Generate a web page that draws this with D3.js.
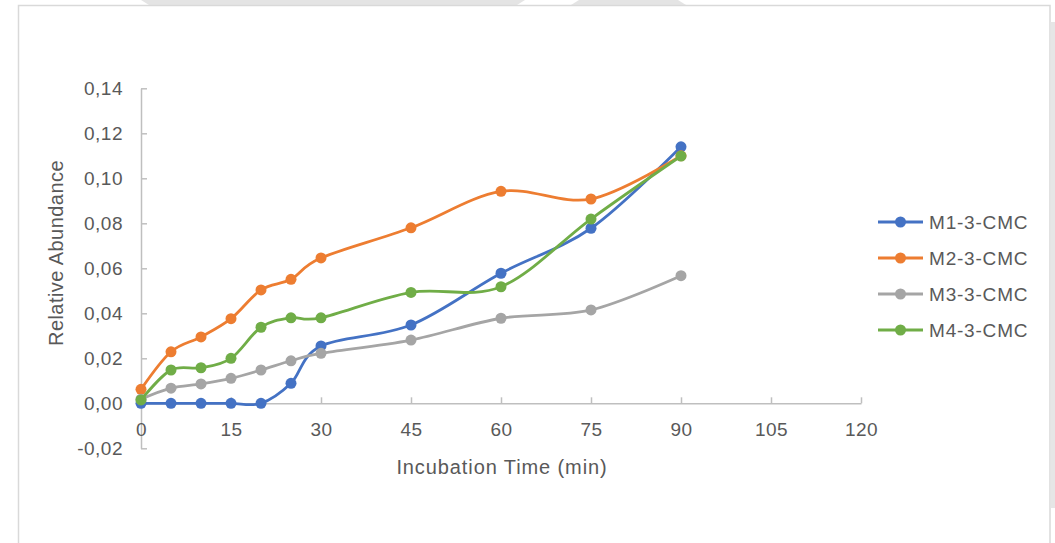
<!DOCTYPE html>
<html><head><meta charset="utf-8">
<script src="https://cdn.jsdelivr.net/npm/d3@7"></script>
<style>
html,body{margin:0;padding:0;background:#fff;}
svg{display:block;font-family:"Liberation Sans",Arial,sans-serif;}
</style></head>
<body>
<svg id="chart" width="1055" height="543"></svg>
<script>
const times = [0, 5, 10, 15, 20, 25, 30, 45, 60, 75, 90];
const seriesNames = ["M1-3-CMC", "M2-3-CMC", "M3-3-CMC", "M4-3-CMC"];
const m1 = [0, 0, 0, 0, 0, 0.0089, 0.0255, 0.0348, 0.0578, 0.0778, 0.1140];
const m2 = [0.0062, 0.0229, 0.0295, 0.0376, 0.0504, 0.0551, 0.0646, 0.0780, 0.0942, 0.0908, 0.1100];
const m3 = [0.0018, 0.0067, 0.0086, 0.0111, 0.0148, 0.0189, 0.0222, 0.0281, 0.0378, 0.0415, 0.0567];
const m4 = [0.0015, 0.0148, 0.0158, 0.0200, 0.0338, 0.0380, 0.0380, 0.0493, 0.0518, 0.0819, 0.1099];
const colors = ["#4472C4", "#ED7D31", "#A5A5A5", "#70AD47"];
const xTicks = [0, 15, 30, 45, 60, 75, 90, 105, 120];
const yTicks = [-0.02, 0, 0.02, 0.04, 0.06, 0.08, 0.10, 0.12, 0.14];
const xTitle = "Incubation Time (min)";
const yTitle = "Relative Abundance";

const svg = d3.select("#chart");
const locale = d3.formatLocale({decimal: ",", thousands: ".", grouping: [3], currency: ["", ""], minus: "-"});
const fmt = locale.format(".2f");

// background decorations
svg.append("polygon").attr("points", "141,0 525,0 517,5 149,5").attr("fill", "#e4e4e4");
svg.append("polygon").attr("points", "579,0 678,0 686,5 571,5").attr("fill", "#e4e4e4");
svg.append("rect").attr("x", 18.5).attr("y", 5.5).attr("width", 1031.5).attr("height", 560)
  .attr("fill", "#fff").attr("stroke", "#d9d9d9").attr("stroke-width", 1.5);
svg.append("rect").attr("x", 1050.5).attr("y", 22).attr("width", 5).attr("height", 486).attr("fill", "#e6e6e6");

const x = d3.scaleLinear().domain([0, 120]).range([141, 861]);
const y = d3.scaleLinear().domain([-0.02, 0.14]).range([448.3, 88.3]);

const axisColor = "#bfbfbf";
const textColor = "#595959";

// y axis
const yAxis = svg.append("g").attr("transform", `translate(${x(0)},0)`)
  .call(d3.axisLeft(y).tickValues(yTicks).tickSizeInner(-6).tickSizeOuter(0).tickPadding(18).tickFormat(fmt));
yAxis.select(".domain").attr("stroke", axisColor).attr("stroke-width", 1.5);
yAxis.selectAll(".tick line").attr("stroke", axisColor).attr("stroke-width", 1.5);
yAxis.selectAll(".tick text").attr("fill", textColor).attr("font-size", 19).attr("font-family", "Liberation Sans, Arial, sans-serif").attr("letter-spacing", 0.5);

// x axis at y=0
const xAxis = svg.append("g").attr("transform", `translate(0,${y(0)})`)
  .call(d3.axisBottom(x).tickValues(xTicks).tickSizeInner(-6).tickSizeOuter(0).tickPadding(19).tickFormat(d3.format("d")));
xAxis.select(".domain").attr("stroke", axisColor).attr("stroke-width", 1.5);
xAxis.selectAll(".tick line").attr("stroke", axisColor).attr("stroke-width", 1.5);
xAxis.selectAll(".tick text").attr("fill", textColor).attr("font-size", 19).attr("font-family", "Liberation Sans, Arial, sans-serif").attr("letter-spacing", 0.5);

// titles
svg.append("text").attr("x", (x(0) + x(120)) / 2 + 1).attr("y", 474).attr("text-anchor", "middle")
  .attr("fill", textColor).attr("font-size", 20).attr("letter-spacing", 0.9).text(xTitle);
svg.append("text").attr("transform", "translate(63,253) rotate(-90)").attr("text-anchor", "middle")
  .attr("fill", textColor).attr("font-size", 20).attr("letter-spacing", 0.45).text(yTitle);

// series
const allSeries = [m1, m2, m3, m4];
const line = d3.line().x((d, i) => x(times[i])).y(d => y(d)).curve(d3.curveCardinal.tension(0));
allSeries.forEach((vals, k) => {
  const g = svg.append("g");
  g.append("path").datum(vals).attr("d", line).attr("fill", "none")
    .attr("stroke", colors[k]).attr("stroke-width", 2.8).attr("stroke-linejoin", "round").attr("stroke-linecap", "round");
  g.selectAll("circle").data(vals).join("circle")
    .attr("cx", (d, i) => x(times[i])).attr("cy", d => y(d)).attr("r", 5.5).attr("fill", colors[k]);
});

// legend
const leg = svg.append("g");
seriesNames.forEach((name, k) => {
  const yy = 222 + k * 36;
  leg.append("line").attr("x1", 878).attr("x2", 923).attr("y1", yy).attr("y2", yy)
    .attr("stroke", colors[k]).attr("stroke-width", 2.8);
  leg.append("circle").attr("cx", 900.5).attr("cy", yy).attr("r", 5.5).attr("fill", colors[k]);
  leg.append("text").attr("x", 929).attr("y", yy + 7).attr("fill", textColor)
    .attr("font-size", 19).attr("letter-spacing", 0.8).text(name);
});
</script>
</body></html>
